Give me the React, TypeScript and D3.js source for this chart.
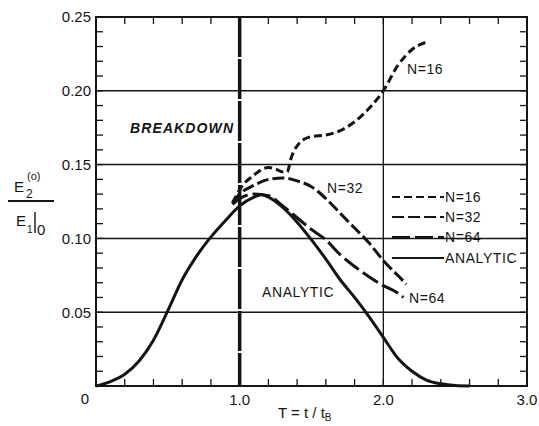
import { useEffect, useRef } from 'react';
import * as d3 from 'd3';

// Analytic curve
const analyticT = [0, 0.1, 0.2, 0.3, 0.4, 0.5, 0.6, 0.7, 0.8, 0.9, 1.0, 1.1, 1.15, 1.2, 1.3, 1.4, 1.5, 1.6, 1.7, 1.8, 1.9, 2.0, 2.1, 2.2, 2.3, 2.4, 2.5, 2.6];
const analyticV = [0, 0.003, 0.008, 0.017, 0.031, 0.051, 0.072, 0.088, 0.101, 0.112, 0.122, 0.128, 0.1295, 0.128, 0.121, 0.111, 0.099, 0.086, 0.072, 0.060, 0.047, 0.033, 0.019, 0.010, 0.004, 0.0015, 0.0003, 0];

// N = 16
const n16T = [0.95, 1.0, 1.1, 1.2, 1.25, 1.3, 1.33, 1.36, 1.42, 1.5, 1.6, 1.7, 1.8, 1.9, 2.0, 2.1, 2.2, 2.3];
const n16V = [0.124, 0.133, 0.143, 0.148, 0.147, 0.145, 0.145, 0.155, 0.165, 0.169, 0.170, 0.173, 0.179, 0.188, 0.200, 0.217, 0.228, 0.233];

// N = 32
const n32T = [0.95, 1.0, 1.1, 1.2, 1.3, 1.4, 1.5, 1.6, 1.7, 1.8, 1.9, 2.0, 2.1, 2.16];
const n32V = [0.124, 0.130, 0.136, 0.140, 0.141, 0.139, 0.135, 0.127, 0.117, 0.107, 0.097, 0.085, 0.075, 0.069];

// N = 64
const n64T = [0.95, 1.0, 1.1, 1.2, 1.3, 1.4, 1.5, 1.6, 1.7, 1.8, 1.9, 2.0, 2.1, 2.14];
const n64V = [0.123, 0.127, 0.130, 0.129, 0.122, 0.114, 0.106, 0.099, 0.089, 0.081, 0.074, 0.068, 0.063, 0.060];

const xTickLabels = ['0', '1.0', '2.0', '3.0'];
const xTickValues = [0, 1, 2, 3];
const yTickValues = [0.05, 0.1, 0.15, 0.2, 0.25];
const yTickLabels = ['0.05', '0.10', '0.15', '0.20', '0.25'];
const legendLabels = ['N=16', 'N=32', 'N=64', 'ANALYTIC'];

const FONT = '"Liberation Sans", Arial, sans-serif';
const INK = '#141414';

const App = () => {
  const svgRef = useRef<SVGSVGElement>(null);
  const width = 539;
  const height = 426;

  useEffect(() => {
    if (!svgRef.current) return;
    const svg = d3.select(svgRef.current);
    svg.selectAll('*').remove();

    const left = 96, right = 527, top = 17, bottom = 386;
    const x = d3.scaleLinear().domain([0, 3]).range([left, right]);
    const y = d3.scaleLinear().domain([0, 0.25]).range([bottom, top]);

    svg.append('rect').attr('width', width).attr('height', height).attr('fill', '#fff');

    const g = svg.append('g');

    // grid lines
    [0.05, 0.1, 0.15, 0.2].forEach(v => {
      g.append('line')
        .attr('x1', left).attr('x2', right)
        .attr('y1', y(v)).attr('y2', y(v))
        .attr('stroke', INK).attr('stroke-width', 1.5);
    });
    g.append('line')
      .attr('x1', x(2)).attr('x2', x(2))
      .attr('y1', top).attr('y2', bottom)
      .attr('stroke', INK).attr('stroke-width', 1.3);

    // minor ticks (inward)
    const tickLen = 7;
    d3.range(1, 15).map(i => i * 0.2).forEach(t => {
      g.append('line').attr('x1', x(t)).attr('x2', x(t)).attr('y1', top).attr('y2', top + tickLen)
        .attr('stroke', INK).attr('stroke-width', 1.3);
      g.append('line').attr('x1', x(t)).attr('x2', x(t)).attr('y1', bottom).attr('y2', bottom - tickLen)
        .attr('stroke', INK).attr('stroke-width', 1.3);
    });
    d3.range(1, 25).map(i => i * 0.01).forEach(v => {
      g.append('line').attr('x1', left).attr('x2', left + tickLen).attr('y1', y(v)).attr('y2', y(v))
        .attr('stroke', INK).attr('stroke-width', 1.3);
      g.append('line').attr('x1', right).attr('x2', right - tickLen).attr('y1', y(v)).attr('y2', y(v))
        .attr('stroke', INK).attr('stroke-width', 1.3);
    });

    // frame
    g.append('rect')
      .attr('x', left).attr('y', top)
      .attr('width', right - left).attr('height', bottom - top)
      .attr('fill', 'none').attr('stroke', INK).attr('stroke-width', 2);

    // breakdown line
    g.append('line')
      .attr('x1', x(1)).attr('x2', x(1))
      .attr('y1', top).attr('y2', bottom)
      .attr('stroke', INK).attr('stroke-width', 3.5)
      .attr('stroke-dasharray', '40,2');

    const line = d3.line<[number, number]>()
      .x(d => x(d[0]))
      .y(d => y(d[1]))
      .curve(d3.curveMonotoneX);

    const series = [
      { t: n16T, v: n16V, dash: '8,4' },
      { t: n32T, v: n32V, dash: '12,4' },
      { t: n64T, v: n64V, dash: '18,5' },
      { t: analyticT, v: analyticV, dash: null },
    ];

    series.forEach(s => {
      const pts = s.t.map((t, i) => [t, s.v[i]] as [number, number]);
      const p = g.append('path')
        .attr('d', line(pts))
        .attr('fill', 'none')
        .attr('stroke', INK)
        .attr('stroke-width', 3);
      if (s.dash) p.attr('stroke-dasharray', s.dash);
    });

    // legend
    const legendY = [197, 217, 237, 258];
    series.forEach((s, i) => {
      const l = g.append('line')
        .attr('x1', 392).attr('x2', 444)
        .attr('y1', legendY[i]).attr('y2', legendY[i])
        .attr('stroke', INK).attr('stroke-width', 2.2);
      if (s.dash) l.attr('stroke-dasharray', s.dash);
      g.append('text')
        .attr('x', 445).attr('y', legendY[i]).attr('dy', '0.36em')
        .style('font-family', FONT).style('font-size', '14px')
        .style('letter-spacing', '0.6px')
        .style('fill', INK)
        .text(legendLabels[i]);
    });

    // tick labels
    const tickText = (tx: number, ty: number, s: string, anchor: string) =>
      g.append('text')
        .attr('x', tx).attr('y', ty).attr('dy', '0.36em')
        .attr('text-anchor', anchor)
        .style('font-family', FONT).style('font-size', '15px')
        .style('fill', INK)
        .text(s);

    yTickValues.forEach((v, i) => tickText(left - 5, y(v), yTickLabels[i], 'end'));
    xTickValues.forEach((t, i) => {
      if (t === 0) tickText(left - 11, 399, xTickLabels[i], 'middle');
      else tickText(x(t), 400, xTickLabels[i], 'middle');
    });

    // annotations
    const label = (tx: number, ty: number, s: string, size = 14) =>
      g.append('text')
        .attr('x', tx).attr('y', ty).attr('dy', '0.36em')
        .style('font-family', FONT).style('font-size', `${size}px`)
        .style('letter-spacing', '0.6px')
        .style('fill', INK)
        .text(s);

    label(407, 69, 'N=16');
    label(327, 188, 'N=32');
    label(409, 298, 'N=64');
    label(262, 292, 'ANALYTIC');

    g.append('text')
      .attr('x', 130).attr('y', 128).attr('dy', '0.36em')
      .attr('textLength', 103)
      .style('font-family', FONT).style('font-size', '14px')
      .style('font-weight', 'bold').style('font-style', 'italic')
      .style('fill', INK)
      .text('BREAKDOWN');

    // y axis label: E2(o) / E1|0
    const yl = g.append('g').style('font-family', FONT).style('fill', INK);
    yl.append('text').attr('x', 14).attr('y', 192).style('font-size', '15px').text('E');
    yl.append('text').attr('x', 26).attr('y', 198).style('font-size', '12px').text('2');
    yl.append('text').attr('x', 27).attr('y', 180).style('font-size', '11px').text('(o)');
    yl.append('line').attr('x1', 8).attr('x2', 54).attr('y1', 201).attr('y2', 201)
      .attr('stroke', INK).attr('stroke-width', 1.8);
    yl.append('text').attr('x', 16).attr('y', 226).style('font-size', '15px').text('E');
    yl.append('text').attr('x', 27).attr('y', 233).style('font-size', '10px').text('1');
    yl.append('line').attr('x1', 35).attr('x2', 35).attr('y1', 212).attr('y2', 233)
      .attr('stroke', INK).attr('stroke-width', 1.4);
    yl.append('text').attr('x', 37).attr('y', 235).style('font-size', '15px').text('0');

    // x axis label
    const xl = g.append('text')
      .attr('x', 278).attr('y', 418)
      .style('font-family', FONT).style('font-size', '15px')
      .style('fill', INK);
    xl.append('tspan').text('T = t / t');
    xl.append('tspan').attr('dy', 3).style('font-size', '10px').text('B');
  }, []);

  return (
    <svg
      ref={svgRef}
      width={width}
      height={height}
      style={{ position: 'absolute', left: 0, top: 0 }}
    />
  );
};

export default App;
